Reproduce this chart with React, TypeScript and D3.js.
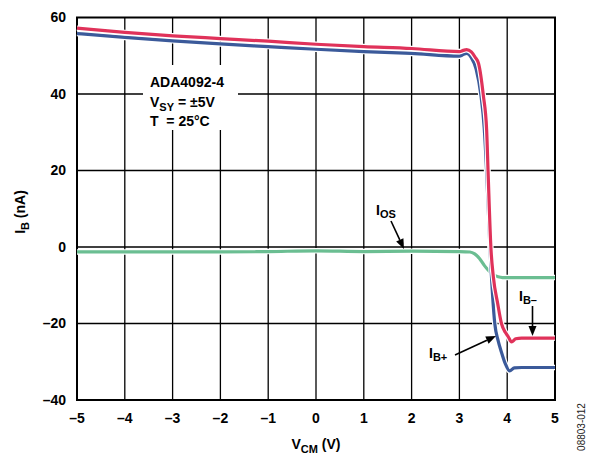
import React from "react";
import * as d3 from "d3";

const xTicks = [-5, -4, -3, -2, -1, 0, 1, 2, 3, 4, 5];
const yTicks = [-40, -20, 0, 20, 40, 60];

const ibMinusX = [-5, -4, -3, -2, -1, 0, 1, 2, 3, 3.08, 3.15, 3.25, 3.33, 3.4, 3.5, 3.57, 3.6, 3.66, 3.71, 3.8, 3.88, 3.96, 4.02, 4.09, 4.18, 4.3, 5];
const ibMinus = [57.2, 56.1, 55.2, 54.5, 53.8, 53.0, 52.4, 51.9, 51.1, 51.4, 51.6, 51.0, 49.6, 48.0, 39.7, 30.6, 19.7, -0.4, -7.8, -14.7, -20, -22.3, -23.4, -24.8, -24.0, -23.8, -23.8];

const ibPlusX = [-5, -4, -3, -2, -1, 0, 1, 2, 3, 3.08, 3.15, 3.25, 3.35, 3.45, 3.52, 3.57, 3.64, 3.74, 3.81, 3.88, 3.96, 4.05, 4.15, 4.3, 5];
const ibPlus = [55.8, 54.8, 53.9, 53.1, 52.4, 51.7, 51.1, 50.6, 49.9, 50.3, 50.6, 49.5, 46.5, 39.7, 31, 19.7, -0.4, -20, -24.5, -27.5, -30.5, -32.4, -31.6, -31.5, -31.5];

const iosX = [-5, -4, -3, -2, -1, 0, 1, 2, 3, 3.22, 3.32, 3.42, 3.52, 3.6, 3.7, 3.81, 3.9, 4.2, 5];
const ios = [-1.3, -1.3, -1.3, -1.3, -1.2, -1.0, -1.2, -1.1, -1.2, -1.3, -1.8, -3.0, -4.8, -6.0, -7.2, -7.8, -8.0, -8.0, -8.0];

const RED = "#E0325A";
const BLUE = "#3B5A9A";
const GREEN = "#6BBE92";

const W = 595, H = 455;
const L = 77, R = 555, T = 17.5, B = 400;

export default function App() {
  const x = d3.scaleLinear().domain([-5, 5]).range([L, R]);
  const y = d3.scaleLinear().domain([-40, 60]).range([B, T]);
  const line = d3.line<[number, number]>().x(d => x(d[0])).y(d => y(d[1])).curve(d3.curveMonotoneX);
  const red = line(ibMinusX.map((v, i) => [v, ibMinus[i]]) as [number, number][]) || "";
  const blue = line(ibPlusX.map((v, i) => [v, ibPlus[i]]) as [number, number][]) || "";
  const green = line(iosX.map((v, i) => [v, ios[i]]) as [number, number][]) || "";
  const font = "Arial, 'Liberation Sans', Helvetica, sans-serif";

  const arrow = (x1: number, y1: number, x2: number, y2: number) => {
    const a = Math.atan2(y2 - y1, x2 - x1);
    const len = 10, wdt = 4;
    const bx = x2 - len * Math.cos(a), by = y2 - len * Math.sin(a);
    const px = -Math.sin(a) * wdt, py = Math.cos(a) * wdt;
    return (
      <g>
        <line x1={x1} y1={y1} x2={bx} y2={by} stroke="#000" strokeWidth={1.6} />
        <path d={`M${x2},${y2}L${bx + px},${by + py}L${bx - px},${by - py}Z`} fill="#000" />
      </g>
    );
  };

  return (
    <svg width={W} height={H} style={{ position: "absolute", left: 0, top: 0, background: "#fff" }} fontFamily={font}>
      <rect x={0} y={0} width={W} height={H} fill="#fff" />
      {xTicks.slice(1, -1).map(t => (
        <line key={"gx" + t} x1={x(t)} x2={x(t)} y1={T} y2={B} stroke="#000" strokeWidth={1.3} />
      ))}
      {yTicks.slice(1, -1).map(t => (
        <line key={"gy" + t} x1={L} x2={R} y1={y(t)} y2={y(t)} stroke="#000" strokeWidth={1.3} />
      ))}
      <rect x={143} y={65} width={95} height={65} fill="#fff" />
      <rect x={L} y={T} width={R - L} height={B - T} fill="none" stroke="#000" strokeWidth={2} />

      <path d={green} fill="none" stroke="#fff" strokeWidth={5.5} />
      <path d={green} fill="none" stroke={GREEN} strokeWidth={3.2} />
      <path d={blue} fill="none" stroke="#fff" strokeWidth={5.5} />
      <path d={blue} fill="none" stroke={BLUE} strokeWidth={3.2} />
      <path d={red} fill="none" stroke="#fff" strokeWidth={5.5} />
      <path d={red} fill="none" stroke={RED} strokeWidth={3.2} />

      {yTicks.map(t => (
        <text key={"yl" + t} x={66} y={y(t)} dy="0.35em" textAnchor="end" fontSize={14} fontWeight="bold">
          {t < 0 ? "\u2013" + Math.abs(t) : t}
        </text>
      ))}
      {xTicks.map(t => (
        <text key={"xl" + t} x={x(t)} y={423} textAnchor="middle" fontSize={14} fontWeight="bold">
          {t < 0 ? "\u2013" + Math.abs(t) : t}
        </text>
      ))}

      <text x={316} y={449} textAnchor="middle" fontSize={14} fontWeight="bold">
        V<tspan fontSize={11} dy={4}>CM</tspan><tspan dy={-4}> (V)</tspan>
      </text>
      <text transform="translate(25,212) rotate(-90)" textAnchor="middle" fontSize={14} fontWeight="bold">
        I<tspan fontSize={11} dy={4}>B</tspan><tspan dy={-4}> (nA)</tspan>
      </text>

      <g fontSize={14} fontWeight="bold">
        <text x={150} y={87}>ADA4092-4</text>
        <text x={150} y={107}>V<tspan fontSize={11} dy={4}>SY</tspan><tspan dy={-4}> = ±5V</tspan></text>
        <text x={150} y={126} style={{ whiteSpace: "pre" }}>{"T  = 25°C"}</text>
      </g>

      <text x={376} y={215} fontSize={14} fontWeight="bold">
        I<tspan fontSize={11} dy={3}>OS</tspan>
      </text>
      {arrow(391, 221, 404, 249)}

      <text x={519} y={301} fontSize={14} fontWeight="bold">
        I<tspan fontSize={11} dy={3}>B–</tspan>
      </text>
      {arrow(532.5, 306, 532.5, 336)}

      <text x={429} y={358} fontSize={14} fontWeight="bold">
        I<tspan fontSize={11} dy={3}>B+</tspan>
      </text>
      {arrow(455, 355, 496, 336)}

      <text transform="translate(585,427) rotate(-90)" textAnchor="middle" fontSize={10} fill="#222">
        08803-012
      </text>
    </svg>
  );
}
